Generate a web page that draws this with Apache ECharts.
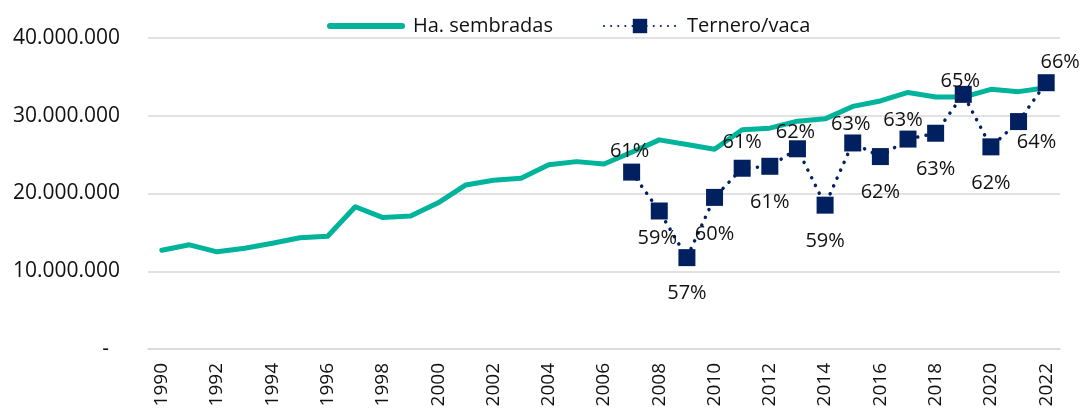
<!DOCTYPE html>
<html lang="es">
<head>
<meta charset="UTF-8">
<title>Ha. sembradas y Ternero/vaca</title>
<script src="https://cdn.jsdelivr.net/npm/echarts@6.0.0/dist/echarts.min.js"></script>
<style>
  html, body { margin: 0; padding: 0; background: #fff; }
  #chart { width: 1083px; height: 412px; }
</style>
</head>
<body>
<div id="chart"></div>
<script>
  var years = ['1990', '1991', '1992', '1993', '1994', '1995', '1996', '1997', '1998', '1999',
    '2000', '2001', '2002', '2003', '2004', '2005', '2006', '2007', '2008', '2009',
    '2010', '2011', '2012', '2013', '2014', '2015', '2016', '2017', '2018', '2019',
    '2020', '2021', '2022'];

  // hectareas sembradas
  var hectareas = [12700000, 13400000, 12500000, 12950000, 13600000, 14300000, 14500000,
    18300000, 16900000, 17100000, 18800000, 21100000, 21700000, 21950000, 23700000,
    24100000, 23800000, 25300000, 26900000, 26300000, 25700000, 28200000, 28400000,
    29300000, 29600000, 31200000, 31900000, 33000000, 32400000, 32400000, 33400000,
    33100000, 33600000];

  // ternero/vaca, 2007 - 2022
  var terneroYears = ['2007', '2008', '2009', '2010', '2011', '2012', '2013', '2014',
    '2015', '2016', '2017', '2018', '2019', '2020', '2021', '2022'];
  var terneroVaca = [0.611, 0.591, 0.567, 0.598, 0.613, 0.614, 0.623, 0.594,
    0.626, 0.619, 0.628, 0.631, 0.651, 0.624, 0.637, 0.657];

  // posicion de cada etiqueta respecto al marcador (px)
  var labelOffsets = [[-2, -21], [-2, 27], [0, 36], [0, 37], [0, -26], [0, 36], [-2, -16], [0, 36],
    [-2, -19], [0, 36], [-5, -19], [0, 36], [-3, -13], [0, 36], [18, 21], [14, -20]];

  var font = 'Open Sans';
  var teal = '#00B39B';
  var navy = '#002060';

  var terneroData = years.map(function (y) {
    var i = terneroYears.indexOf(y);
    if (i < 0) return null;
    return {
      value: terneroVaca[i],
      label: { offset: labelOffsets[i] }
    };
  });

  function miles(v) {
    if (v === 0) return '-  ';
    return String(v).replace(/\B(?=(\d{3})+(?!\d))/g, '.');
  }

  var chart = echarts.init(document.getElementById('chart'));
  chart.setOption({
    animation: false,
    textStyle: { fontFamily: font },
    grid: { left: 148, right: 23, top: 38, bottom: 63, containLabel: false },
    legend: {
      left: 322,
      top: 11,
      itemWidth: 72,
      itemHeight: 18,
      itemGap: 50,
      textStyle: { fontFamily: font, fontSize: 20, color: '#111', padding: [0, 0, 0, 6] },
      data: [
        { name: 'Ha. sembradas', itemStyle: { opacity: 0 }, lineStyle: { width: 6, cap: 'round' } },
        { name: 'Ternero/vaca', lineStyle: { type: [0.1, 7] } }
      ]
    },
    xAxis: {
      type: 'category',
      data: years,
      boundaryGap: true,
      axisLine: { lineStyle: { color: '#d9d9d9', width: 1.5 } },
      axisTick: { show: false },
      axisLabel: {
        interval: 1,
        rotate: 90,
        margin: 14,
        fontFamily: font,
        fontSize: 19,
        color: '#111'
      }
    },
    yAxis: [{
      type: 'value',
      min: 0,
      max: 40000000,
      interval: 10000000,
      axisLine: { show: false },
      axisTick: { show: false },
      splitLine: { lineStyle: { color: '#d9d9d9', width: 1.5 } },
      axisLabel: {
        margin: 28,
        fontFamily: font,
        fontSize: 21,
        color: '#111',
        formatter: miles
      }
    }, {
      type: 'value',
      min: 0.52,
      max: 0.68,
      show: false,
      splitLine: { show: false }
    }],
    series: [{
      name: 'Ha. sembradas',
      type: 'line',
      data: hectareas,
      yAxisIndex: 0,
      showSymbol: false,
      symbol: 'none',
      itemStyle: { color: teal },
      lineStyle: { color: teal, width: 5, cap: 'round', join: 'round' }
    }, {
      name: 'Ternero/vaca',
      type: 'line',
      data: terneroData,
      yAxisIndex: 1,
      symbol: 'rect',
      symbolSize: 17,
      itemStyle: { color: navy },
      lineStyle: { color: navy, width: 3.5, type: [0.1, 8.5], cap: 'round' },
      label: {
        show: true,
        position: 'inside',
        fontFamily: font,
        fontSize: 20,
        color: '#111',
        formatter: function (p) { return Math.round(p.value * 100) + '%'; }
      },
      z: 3
    }]
  });
</script>
</body>
</html>
